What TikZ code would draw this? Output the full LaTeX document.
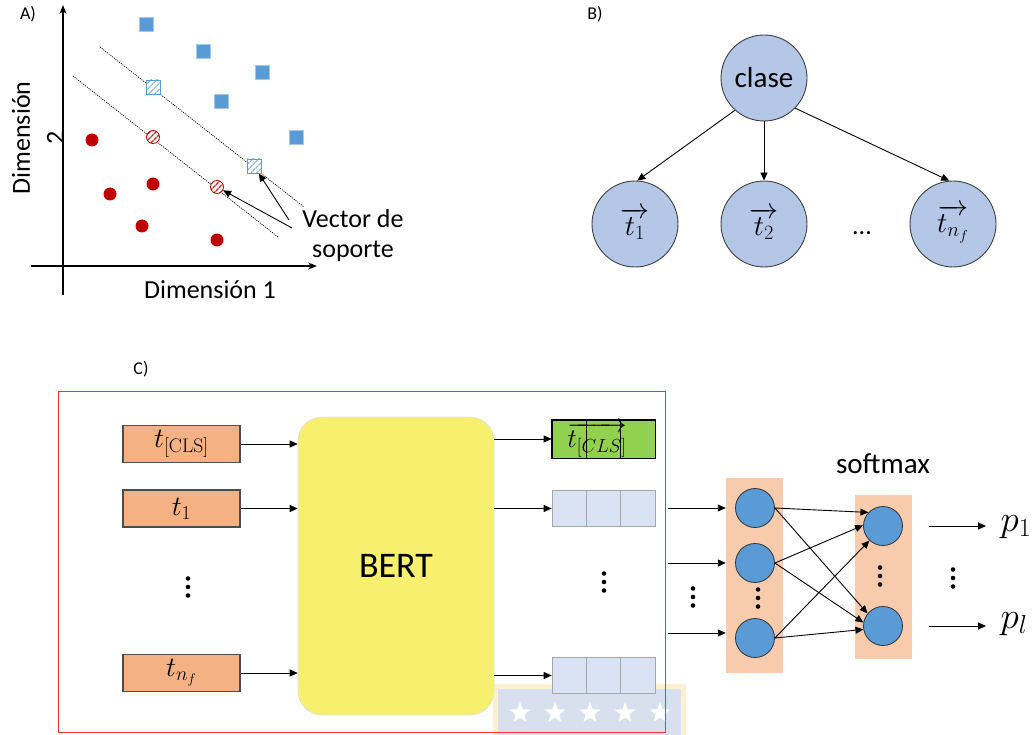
\documentclass[tikz,border=0pt]{standalone}
\usepackage{fix-cm}
\usepackage[no-math]{fontspec}
\setmainfont{Carlito}
\usetikzlibrary{arrows.meta,shapes.geometric,patterns.meta,calc}

\definecolor{sqblue}{HTML}{5B9BD5}
\definecolor{dotred}{HTML}{C00000}
\definecolor{nodeblue}{HTML}{B4C7E7}
\definecolor{tokorange}{HTML}{F4B183}
\definecolor{bertyellow}{HTML}{F6F06E}
\definecolor{clsgreen}{HTML}{92D050}
\definecolor{cellblue}{HTML}{DAE3F3}
\definecolor{layerpeach}{HTML}{F8CBAD}
\definecolor{framered}{HTML}{E53A3A}
\definecolor{wmblue}{HTML}{D8E0EE}
\definecolor{wmedge}{HTML}{FDEFD2}

\newcommand{\fsz}[1]{\fontsize{#1}{#1}\selectfont}
% three stacked dots centred on a coordinate
\newcommand{\dotcol}[1]{\foreach \dd in {-8.5,0,8.5}{\fill ($(#1)+(0,\dd)$) circle (2.3pt);}}

\begin{document}
\begin{tikzpicture}[x=1pt,y=-1pt,
  arr/.style={-{Triangle[length=8pt,width=7pt]}, line width=0.9pt},
  axis/.style={-{Stealth[length=9pt,width=7pt]}, line width=1.4pt},
  sepline/.style={line width=0.7pt, dash pattern=on 1.1pt off 1.1pt},
  sq/.style={rectangle, minimum size=14pt, inner sep=0pt, fill=sqblue, draw=sqblue!55, line width=0.7pt},
  sqsv/.style={rectangle, minimum size=14pt, inner sep=0pt, draw=sqblue, line width=0.9pt,
    preaction={fill=white}, pattern={Lines[angle=45,distance=4pt,line width=1.3pt]}, pattern color=sqblue!75},
  dot/.style={circle, minimum size=13pt, inner sep=0pt, fill=dotred},
  dotsv/.style={circle, minimum size=13pt, inner sep=0pt, draw=dotred, line width=0.8pt,
    preaction={fill=white}, pattern={Lines[angle=45,distance=4pt,line width=1.6pt]}, pattern color=dotred!85},
  bnode/.style={circle, minimum size=86pt, inner sep=0pt, fill=nodeblue, draw=black!75, line width=0.9pt},
  tok/.style={rectangle, minimum width=117pt, minimum height=37pt, inner sep=0pt, fill=tokorange, draw=black!70, line width=1.1pt, font=\fsz{28}},
  cell/.style={rectangle, minimum width=34.3pt, minimum height=36pt, inner sep=0pt, fill=cellblue, draw=black!35, line width=0.8pt},
  gcell/.style={rectangle, minimum width=34.3pt, minimum height=38pt, inner sep=0pt, fill=clsgreen, draw=black, line width=0.8pt},
  layer/.style={rectangle, inner sep=0pt, fill=layerpeach},
  neuron/.style={circle, minimum size=39pt, inner sep=0pt, fill=sqblue, draw=black!80, line width=0.8pt},
  lbl/.style={font=\fsz{18}},
  txt/.style={font=\fsz{26}}
]
\useasboundingbox (0,0) rectangle (1035,735);

% ---------------- A) support vector machine ----------------
\node[lbl] (alab) at (28,14) {A)};
\coordinate (yb) at (63,295);
\coordinate (yt) at (63,5);
\coordinate (xl) at (31,266);
\coordinate (xr) at (317,266);
\draw[axis] (yb) -- (yt);
\draw[axis] (xl) -- (xr);
\node[txt] (xlab) at (210,290) {Dimensión 1};
\node[rotate=90, align=center, font=\fontsize{26}{34}\selectfont] (ylab) at (38,138) {Dimensión\\2};

\coordinate (m1a) at (100,47);
\coordinate (m1b) at (304,207);
\coordinate (m2a) at (73,76);
\coordinate (m2b) at (278,237);
\draw[sepline] (m1a) -- (m1b);
\draw[sepline] (m2a) -- (m2b);

\node[sq] (b1) at (146,24) {};
\node[sq] (b2) at (203,51) {};
\node[sq] (b3) at (262,72) {};
\node[sq] (b4) at (221,101) {};
\node[sq] (b5) at (296,137) {};
\node[sqsv] (sv1) at (153,87) {};
\node[sqsv] (sv2) at (254,166) {};

\node[dot] (r1) at (92,140) {};
\node[dot] (r2) at (110,194) {};
\node[dot] (r3) at (153,184) {};
\node[dot] (r4) at (142,226) {};
\node[dot] (r5) at (217,240) {};
\node[dotsv] (rv1) at (153,137) {};
\node[dotsv] (rv2) at (217,187) {};

\node[align=center, font=\fontsize{26}{30}\selectfont] (vs) at (353,236) {Vector de\\soporte};
\coordinate (vsa) at (292,228);
\coordinate (vsb) at (289,220);
\draw[arr] (vsa) -- (rv2);
\draw[arr] (vsb) -- (sv2);

% ---------------- B) naive Bayes ----------------
\node[lbl] (blab) at (595,14) {B)};
\node[bnode, font=\fsz{29}] (clase) at (764,78) {clase};
\node[bnode, font=\fsz{29}] (t1) at (635,224) {$\overrightarrow{t_1}$};
\node[bnode, font=\fsz{29}] (t2) at (764,224) {$\overrightarrow{t_2}$};
\node[bnode, font=\fsz{29}] (tn) at (953,224) {$\overrightarrow{t_{n_f}}$};
\node[txt] (bdots) at (862,233) {...};
\draw[arr] (clase.-132) -- (t1.87);
\draw[arr] (clase) -- (t2);
\draw[arr] (clase.-44) -- (tn.95);

% ---------------- C) BERT classifier ----------------
\node[lbl] (clab) at (141,369) {C)};

% pale badge in the lower margin, under the output cells
\fill[wmedge] (493,684) rectangle (686,735);
\fill[wmblue] (498,689) rectangle (681,735);
\foreach \sx in {520,555,590,625,660}
  \node[star, star points=5, star point ratio=2.4, minimum size=22pt, inner sep=0pt, fill=white] at (\sx,713) {};

\draw[framered, line width=1pt] (58,391) rectangle (665,732);

\node[tok] (in0) at (181.5,444) {$t_{[\mathrm{CLS}]}$};
\node[tok] (in1) at (181.5,508.5) {$t_1$};
\node[tok] (inf) at (181.5,673) {$t_{n_f}$};
\coordinate (indots) at (188,587);
\dotcol{indots}

\node[rectangle, rounded corners=24pt, minimum width=196pt, minimum height=298pt,
      fill=bertyellow, draw=black!12, line width=0.6pt, font=\fsz{36}] (bert) at (396,566) {BERT};

\draw[arr] (in0) -- (in0 -| bert.west);
\draw[arr] (in1) -- (in1 -| bert.west);
\draw[arr] (inf) -- (inf -| bert.west);

% output vectors
\node[gcell] (g1) at (569.2,439) {};
\node[gcell] (g2) at (603.5,439) {};
\node[gcell] (g3) at (637.8,439) {};
\draw[line width=1.2pt] (g1.north west) rectangle (g3.south east);
\node[font=\fsz{27}] (gtxt) at (597,440) {$\overrightarrow{t_{[CLS]}}$};

\node[cell] (c1) at (569.2,508.5) {};
\node[cell] (c2) at (603.5,508.5) {};
\node[cell] (c3) at (637.8,508.5) {};
\node[cell] (d1) at (569.2,675.5) {};
\node[cell] (d2) at (603.5,675.5) {};
\node[cell] (d3) at (637.8,675.5) {};
\coordinate (outdots) at (604,582);
\dotcol{outdots}

\draw[arr] (bert.east |- g1) -- (g1.west);
\draw[arr] (bert.east |- c1) -- (c1.west);
\draw[arr] (bert.east |- d1) -- (d1.west);

% dense layer and softmax layer
\node[layer, minimum width=57pt, minimum height=195pt] (lay1) at (754.5,575.5) {};
\node[layer, minimum width=57pt, minimum height=164pt] (lay2) at (883.5,577) {};
\node[neuron] (n1) at (755,508) {};
\node[neuron] (n2) at (755,563) {};
\node[neuron] (n3) at (755,638) {};
\node[neuron] (s1) at (883,526) {};
\node[neuron] (s2) at (883,626) {};
\node[font=\fsz{29}] (smx) at (883,464) {softmax};

\coordinate (e1) at (668,508);
\coordinate (e2) at (668,563);
\coordinate (e3) at (668,633);
\draw[arr] (e1) -- (e1 -| lay1.west);
\draw[arr] (e2) -- (e2 -| lay1.west);
\draw[arr] (e3) -- (e3 -| lay1.west);
\coordinate (edots) at (693,597);
\dotcol{edots}
\coordinate (l1dots) at (758,598);
\dotcol{l1dots}
\coordinate (l2dots) at (880,576);
\dotcol{l2dots}

\draw[arr] (n1.east) -- (s1.137);
\draw[arr] (n1.east) -- (s2.141);
\draw[arr] (n2.east) -- (s1.178);
\draw[arr] (n2.east) -- (s2.170);
\draw[arr] (n3.east) -- (s1.227);
\draw[arr] (n3.east) -- (s2.190);

\coordinate (q1) at (929,526);
\coordinate (q1e) at (986,526);
\coordinate (q2) at (929,626);
\coordinate (q2e) at (986,626);
\draw[arr] (q1) -- (q1e);
\draw[arr] (q2) -- (q2e);
\node[font=\fsz{37}, inner sep=0pt] (p1) at (1016,527) {$p_1$};
\node[font=\fsz{37}, inner sep=0pt] (pl) at (1014,624) {$p_l$};
\coordinate (pdots) at (953,578);
\dotcol{pdots}
\end{tikzpicture}
\end{document}
